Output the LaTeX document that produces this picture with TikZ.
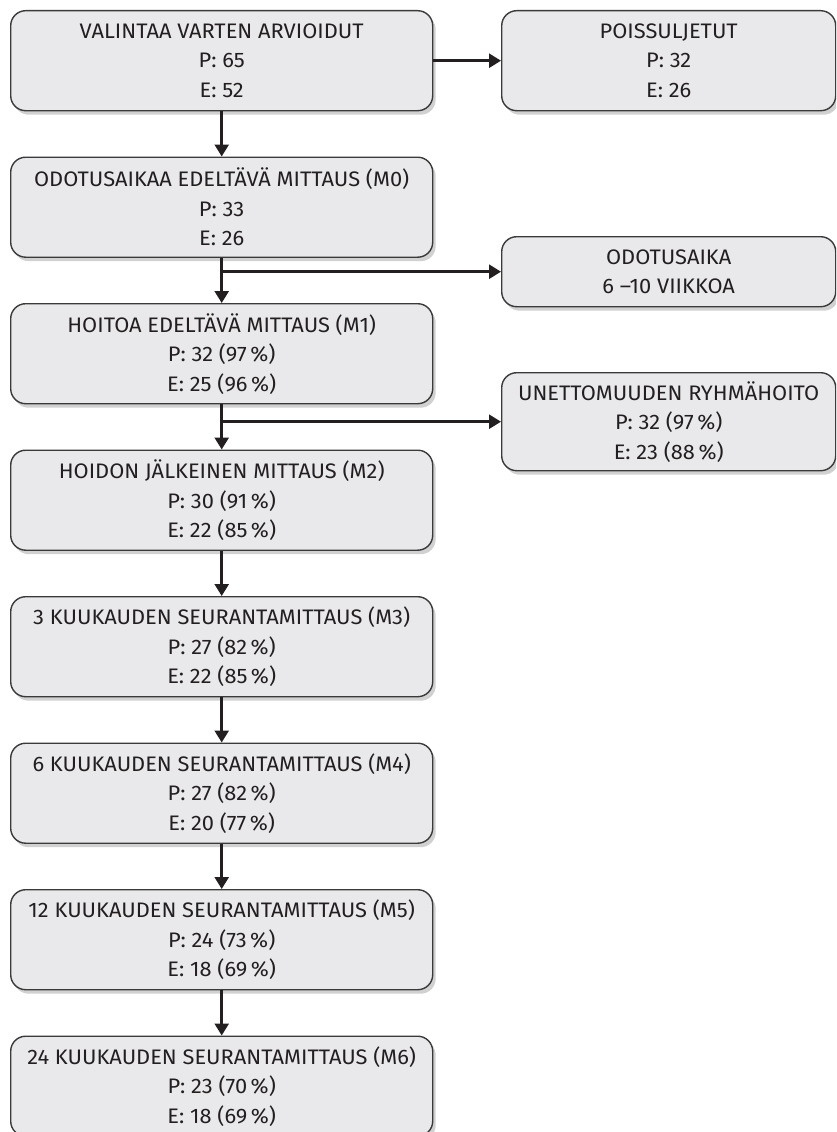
\documentclass[tikz,border=0pt]{standalone}
\usepackage{fontspec}
\setmainfont[FakeStretch=1.04]{Fira Sans}
\usetikzlibrary{arrows.meta,shadows,positioning}
\definecolor{boxfill}{HTML}{E9E9EB}
\definecolor{boxline}{HTML}{3A3A3A}
\definecolor{ink}{HTML}{231F20}
\tikzset{
  box/.style={draw=boxline, line width=1.4pt, fill=boxfill, rounded corners=15pt,
    align=center, anchor=north west, inner sep=0pt, text=ink,
    font=\fontsize{21}{29.5}\selectfont,
    drop shadow={shadow xshift=3pt, shadow yshift=-4pt, opacity=0.18, fill=black}},
  leftbox/.style={box, minimum width=422pt, minimum height=100pt},
  rightbox/.style={box, minimum width=334pt},
  arr/.style={draw=ink, line width=2.6pt, -{Triangle[width=14pt,length=12pt]}},
  plain/.style={draw=ink, line width=2.6pt}
}
\begin{document}
\begin{tikzpicture}[x=1pt,y=-1pt]
\useasboundingbox[fill=white] (0,0) rectangle (836,1132);
\clip (0,0) rectangle (836,1132);
\node[leftbox] (b1) at (10,10) {VALINTAA VARTEN ARVIOIDUT\\P: 65\\E: 52};
\node[leftbox] (b2) at (10,156.5) {ODOTUSAIKAA EDELTÄVÄ MITTAUS (M0)\\P: 33\\E: 26};
\node[leftbox] (b3) at (10,303) {HOITOA EDELTÄVÄ MITTAUS (M1)\\P: 32 (97\,\%)\\E: 25 (96\,\%)};
\node[leftbox] (b4) at (10,449.5) {HOIDON JÄLKEINEN MITTAUS (M2)\\P: 30 (91\,\%)\\E: 22 (85\,\%)};
\node[leftbox] (b5) at (10,596) {3 KUUKAUDEN SEURANTAMITTAUS (M3)\\P: 27 (82\,\%)\\E: 22 (85\,\%)};
\node[leftbox] (b6) at (10,742.5) {6 KUUKAUDEN SEURANTAMITTAUS (M4)\\P: 27 (82\,\%)\\E: 20 (77\,\%)};
\node[leftbox] (b7) at (10,889) {12 KUUKAUDEN SEURANTAMITTAUS (M5)\\P: 24 (73\,\%)\\E: 18 (69\,\%)};
\node[leftbox] (b8) at (10,1035.5) {24 KUUKAUDEN SEURANTAMITTAUS (M6)\\P: 23 (70\,\%)\\E: 18 (69\,\%)};
\node[rightbox, minimum height=100pt] (r1) at (501,10) {POISSULJETUT\\P: 32\\E: 26};
\node[rightbox, minimum height=70pt] (r2) at (501,236) {ODOTUSAIKA\\6 –10 VIIKKOA};
\node[rightbox, minimum height=98pt] (r3) at (501,372) {UNETTOMUUDEN RYHMÄHOITO\\P: 32 (97\,\%)\\E: 23 (88\,\%)};
\draw[arr] (b1.east) -- (r1.west);
\draw[arr] (b1.south) -- (b2.north);
\draw[arr] (b2.south) -- (b3.north);
\draw[arr] (b2.south |- r2.west) -- (r2.west);
\draw[arr] (b3.south) -- (b4.north);
\draw[arr] (b3.south |- r3.west) -- (r3.west);
\draw[arr] (b4.south) -- (b5.north);
\draw[arr] (b5.south) -- (b6.north);
\draw[arr] (b6.south) -- (b7.north);
\draw[arr] (b7.south) -- (b8.north);
\end{tikzpicture}
\end{document}
